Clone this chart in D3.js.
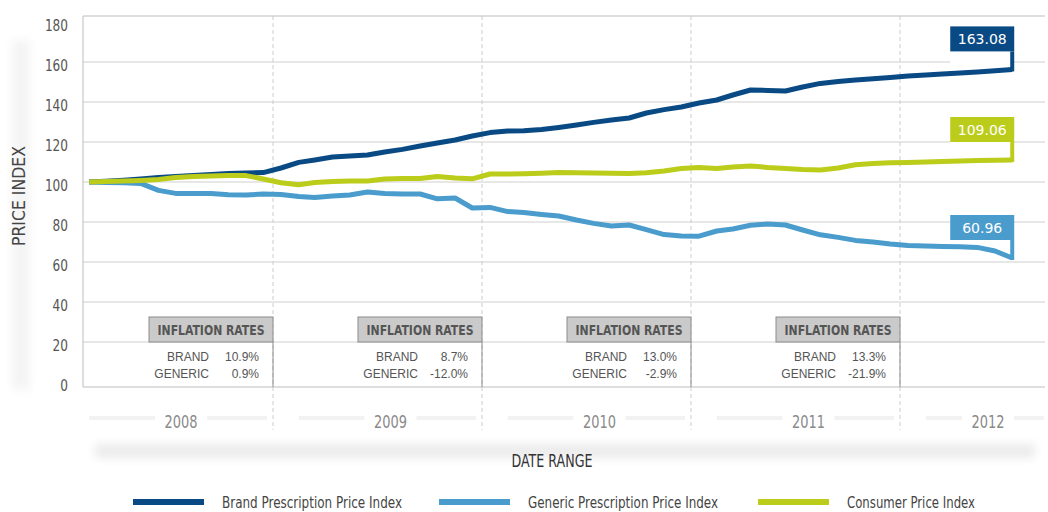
<!DOCTYPE html>
<html>
<head>
<meta charset="utf-8">
<script src="https://cdn.jsdelivr.net/npm/d3@7"></script>
<style>
  body { margin: 0; background: #fff; }
  svg { display: block; }
  .narrow { font-family: 'DejaVu Sans', sans-serif; font-stretch: condensed; }
</style>
</head>
<body>
<svg id="chart" width="1048" height="512"></svg>
<script>
// data (monthly, Feb 2008 - Jul 2012)
const seriesNames = ["Brand Prescription Price Index", "Generic Prescription Price Index", "Consumer Price Index"];
const endLabels = ["163.08", "60.96", "109.06"];
const years = [2008, 2009, 2010, 2011, 2012];
const brandRates = ["10.9%", "8.7%", "13.0%", "13.3%"];
const genericRates = ["0.9%", "-12.0%", "-2.9%", "-21.9%"];
const yTicks = [0, 20, 40, 60, 80, 100, 120, 140, 160, 180];

const brand = [100, 100.4, 100.9, 101.5, 102.2, 102.8, 103.3, 103.8, 104.2, 104.5,
  104.7, 107, 109.8, 111, 112.5, 113, 113.5, 115, 116.3, 118,
  119.5, 121, 123, 124.7, 125.5, 125.6, 126.3, 127.3, 128.5, 129.8,
  131, 132, 134.5, 136.2, 137.5, 139.5, 141, 143.5, 146, 145.8,
  145.5, 147.5, 149.3, 150.2, 151, 151.6, 152.3, 153, 153.5, 154,
  154.5, 155, 155.6, 156.3];
const generic = [100, 99.8, 99.6, 99.3, 95.8, 94.3, 94.3, 94.3, 93.6, 93.5,
  94, 93.8, 92.8, 92.2, 93, 93.5, 95, 94.2, 94, 94,
  91.6, 92, 87, 87.3, 85.2, 84.8, 83.8, 83, 81, 79.3,
  78, 78.5, 76.2, 73.7, 73, 72.9, 75.5, 76.5, 78.4, 79,
  78.5, 76, 73.6, 72.3, 70.8, 70, 69, 68.3, 68, 67.8,
  67.6, 67.3, 65.5, 62];
const cpi = [100, 100.2, 100.5, 100.8, 101.3, 102.3, 102.8, 103, 103.2, 103.2,
  101.5, 99.6, 98.6, 99.7, 100.3, 100.5, 100.5, 101.5, 101.7, 101.8,
  102.8, 102, 101.6, 104, 104, 104.1, 104.4, 104.7, 104.6, 104.5,
  104.4, 104.3, 104.6, 105.5, 106.7, 107.3, 106.8, 107.5, 108, 107.3,
  106.8, 106.3, 106, 107, 108.6, 109.3, 109.6, 109.8, 110, 110.3,
  110.5, 110.7, 110.9, 111];

const colors = ["#0a4a84", "#4a9ccd", "#bccc1a"];
const months = d3.timeMonth.range(new Date(2008, 1, 1), new Date(2012, 7, 1))
  .map(d => new Date(d.getFullYear(), d.getMonth(), 15));

const svg = d3.select("#chart");

const plotLeft = 83, plotRight = 1045, plotTop = 16, plotBottom = 387;

const x = d3.scaleTime()
  .domain([new Date(2009, 0, 1), new Date(2012, 0, 1)])
  .range([273, 900]);
const y = d3.scaleLinear().domain([0, 180]).range([382, 22]);

// soft gray bands behind the axis titles
const defs = svg.append("defs");
defs.append("filter").attr("id", "soft").attr("x", "-50%").attr("y", "-50%").attr("width", "200%").attr("height", "200%")
  .append("feGaussianBlur").attr("stdDeviation", 5);
svg.append("rect").attr("x", 12).attr("y", 40).attr("width", 18).attr("height", 350)
  .attr("fill", "#f4f4f4").attr("filter", "url(#soft)");
svg.append("rect").attr("x", 95).attr("y", 444).attr("width", 940).attr("height", 14)
  .attr("fill", "#ebebeb").attr("filter", "url(#soft)");

// gridlines
svg.append("g")
  .selectAll("line")
  .data(yTicks.filter(d => d > 0 && d < 180))
  .join("line")
  .attr("x1", plotLeft).attr("x2", plotRight)
  .attr("y1", d => y(d)).attr("y2", d => y(d))
  .attr("stroke", "#cfcfcf").attr("stroke-width", 1);

// frame
svg.append("path")
  .attr("d", `M${plotRight},${plotTop}H${plotLeft}V${plotBottom}H${plotRight}`)
  .attr("fill", "none").attr("stroke", "#bdbdbd").attr("stroke-width", 1);

// year dividers
const dividers = years.slice(1).map(yr => new Date(yr, 0, 1));
svg.append("g")
  .selectAll("line")
  .data(dividers)
  .join("line")
  .attr("x1", d => x(d)).attr("x2", d => x(d))
  .attr("y1", plotTop).attr("y2", 430)
  .attr("stroke", "#cccccc").attr("stroke-dasharray", "4,3");

// y axis
const yAxis = svg.append("g")
  .attr("transform", "translate(71,3)")
  .call(d3.axisLeft(y).tickValues(yTicks).tickSize(0).tickPadding(3));
yAxis.select(".domain").remove();
yAxis.selectAll("text")
  .attr("class", "narrow")
  .attr("font-family", null)
  .attr("font-size", 16).attr("fill", "#555")
  .attr("textLength", d => String(d).length * 7.7)
  .attr("lengthAdjust", "spacingAndGlyphs");

svg.append("text")
  .attr("class", "narrow")
  .attr("transform", "translate(25,196) rotate(-90)")
  .attr("text-anchor", "middle")
  .attr("font-size", 17).attr("fill", "#444")
  .attr("textLength", 100).attr("lengthAdjust", "spacingAndGlyphs")
  .text("PRICE INDEX");

// year labels along the bottom
const yearG = svg.append("g");
years.forEach(yr => {
  const x0 = x(new Date(yr, 1, 15));
  const x1 = Math.min(x(new Date(yr + 1, 0, 1)), 1050);
  const cx = (x0 + x1) / 2;
  yearG.append("line").attr("x1", x0).attr("x2", cx - 26).attr("y1", 418).attr("y2", 418)
    .attr("stroke", "#f2f2f2").attr("stroke-width", 4);
  yearG.append("line").attr("x1", cx + 26).attr("x2", x1 - 6).attr("y1", 418).attr("y2", 418)
    .attr("stroke", "#f2f2f2").attr("stroke-width", 4);
  yearG.append("text")
    .attr("class", "narrow")
    .attr("x", cx).attr("y", 428)
    .attr("text-anchor", "middle")
    .attr("font-size", 18).attr("fill", "#8a8a8a")
    .attr("textLength", 33).attr("lengthAdjust", "spacingAndGlyphs")
    .text(yr);
});

svg.append("text")
  .attr("class", "narrow")
  .attr("x", 552).attr("y", 467)
  .attr("text-anchor", "middle")
  .attr("font-size", 17).attr("fill", "#333")
  .attr("textLength", 81).attr("lengthAdjust", "spacingAndGlyphs")
  .text("DATE RANGE");

// inflation rate boxes
dividers.forEach((d, i) => {
  const bx = x(d);
  const g = svg.append("g");
  g.append("rect").attr("x", bx - 124).attr("y", 317).attr("width", 124).attr("height", 25)
    .attr("fill", "#cacaca").attr("stroke", "#8c8c8c");
  g.append("line").attr("x1", bx).attr("x2", bx).attr("y1", 342).attr("y2", plotBottom)
    .attr("stroke", "#8c8c8c");
  g.append("text").attr("x", bx - 62).attr("y", 334.5)
    .attr("class", "narrow")
    .attr("text-anchor", "middle")
    .attr("font-size", 14).attr("font-weight", "bold").attr("fill", "#555")
    .attr("textLength", 107).attr("lengthAdjust", "spacingAndGlyphs")
    .text("INFLATION RATES");
  [["BRAND", brandRates[i], 360.5], ["GENERIC", genericRates[i], 377.5]].forEach(r => {
    g.append("text").attr("x", bx - 64).attr("y", r[2]).attr("text-anchor", "end")
      .attr("font-family", "'Liberation Sans', Arial, sans-serif").attr("font-size", 12).attr("fill", "#555")
      .text(r[0]);
    g.append("text").attr("x", bx - 14).attr("y", r[2]).attr("text-anchor", "end")
      .attr("font-family", "'Liberation Sans', Arial, sans-serif").attr("font-size", 12).attr("fill", "#555")
      .text(r[1]);
  });
});

// end callouts: white panel under each label, drawn before the lines
const allSeries = [brand, generic, cpi];
const endX = x(months[months.length - 1]);
const callouts = [0, 2, 1].map(s => {
  const vals = allSeries[s];
  const ey = y(vals[vals.length - 1]);
  return { s: s, ey: ey, top: ey - 43 };
});
callouts.forEach(c => {
  svg.append("rect").attr("x", endX - 62).attr("y", c.top + 25).attr("width", 62).attr("height", c.ey - c.top - 25)
    .attr("fill", "#fff");
});

// lines
const line = d3.line().x((d, i) => x(months[i])).y(d => y(d));
[0, 1, 2].forEach(s => {
  svg.append("path")
    .datum(allSeries[s])
    .attr("d", line)
    .attr("fill", "none")
    .attr("stroke", colors[s])
    .attr("stroke-width", 5)
    .attr("stroke-linejoin", "round");
});

callouts.forEach(c => {
  svg.append("line").attr("x1", endX).attr("x2", endX).attr("y1", c.top + 25).attr("y2", c.ey + 2)
    .attr("stroke", colors[c.s]).attr("stroke-width", 4);
  svg.append("rect").attr("x", endX - 62).attr("y", c.top).attr("width", 64).attr("height", 25)
    .attr("fill", colors[c.s]);
  svg.append("text").attr("x", endX - 30).attr("y", c.top + 18)
    .attr("text-anchor", "middle")
    .attr("font-family", "'DejaVu Sans', sans-serif").attr("font-size", 14).attr("fill", "#fff")
    .text(endLabels[c.s]);
});

// legend
const legendX = [133, 439, 758];
const legendW = [180, 190, 128];
seriesNames.forEach((name, i) => {
  svg.append("line").attr("x1", legendX[i]).attr("x2", legendX[i] + 71).attr("y1", 502).attr("y2", 502)
    .attr("stroke", colors[i]).attr("stroke-width", 6);
  svg.append("text").attr("x", legendX[i] + 89).attr("y", 507.5)
    .attr("class", "narrow")
    .attr("font-size", 15).attr("fill", "#444")
    .attr("textLength", legendW[i]).attr("lengthAdjust", "spacingAndGlyphs")
    .text(name);
});
</script>
</body>
</html>
